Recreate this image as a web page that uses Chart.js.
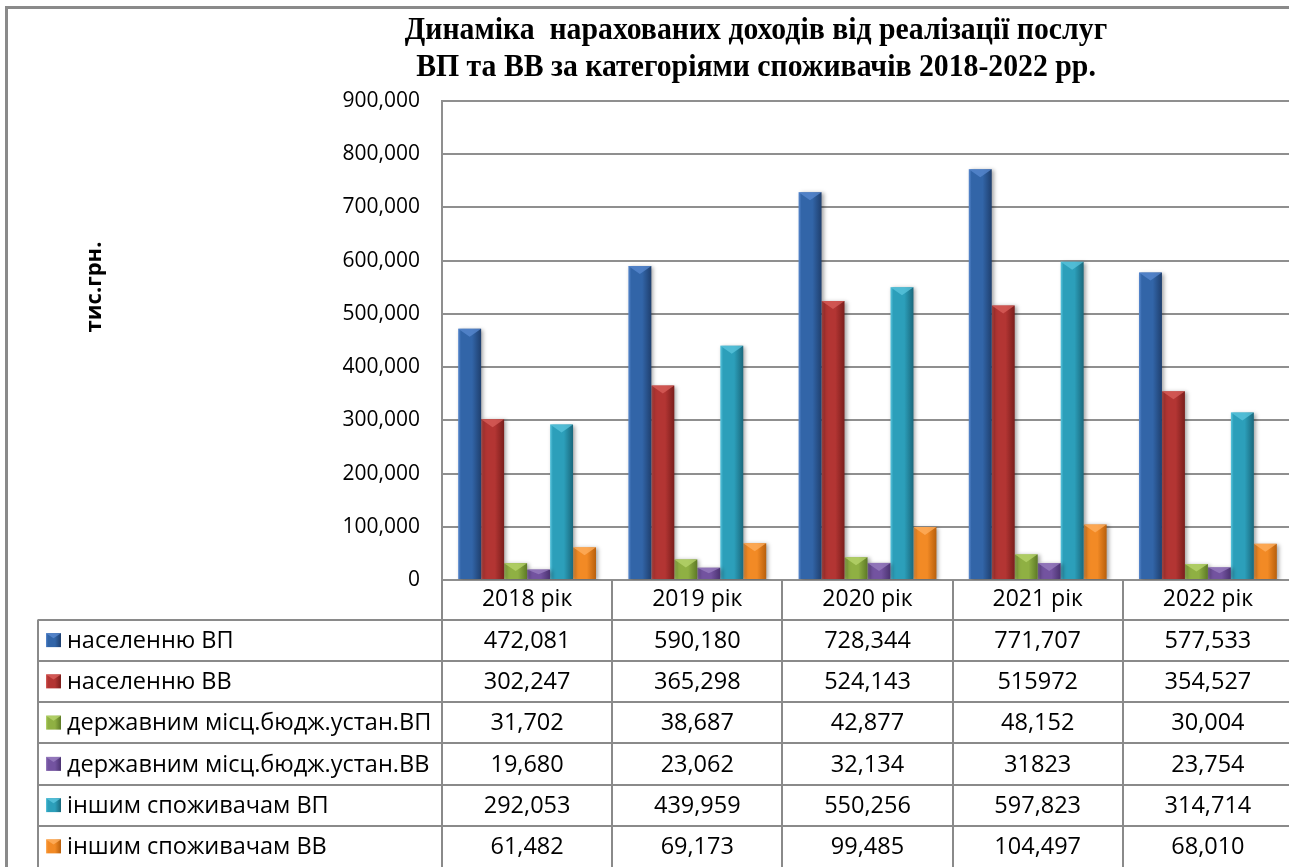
<!DOCTYPE html>
<html>
<head>
<meta charset="utf-8">
<title>Динаміка нарахованих доходів</title>
<script src="https://cdn.jsdelivr.net/npm/chart.js@4.4.1/dist/chart.umd.min.js"></script>
<style>
  html, body { margin: 0; padding: 0; background: #fff; overflow: hidden; }
  #wrap { width: 1296px; height: 867px; }
</style>
</head>
<body>
<div id="wrap"><canvas id="chart" width="1296" height="867"></canvas></div>
<script>
// Years on the category axis
const years = ['2018 рік', '2019 рік', '2020 рік', '2021 рік', '2022 рік'];

// Series names (legend column of the data table)
const seriesNames = [
  'населенню ВП',
  'населенню ВВ',
  'державним місц.бюдж.устан.ВП',
  'державним місц.бюдж.устан.ВВ',
  'іншим споживачам ВП',
  'іншим споживачам ВВ'
];

// Values as printed in the data table, thousand UAH
const populationVP = ['472,081', '590,180', '728,344', '771,707', '577,533'];
const populationVV = ['302,247', '365,298', '524,143', '515972', '354,527'];
const budgetVP     = ['31,702', '38,687', '42,877', '48,152', '30,004'];
const budgetVV     = ['19,680', '23,062', '32,134', '31823', '23,754'];
const otherVP      = ['292,053', '439,959', '550,256', '597,823', '314,714'];
const otherVV      = ['61,482', '69,173', '99,485', '104,497', '68,010'];

const seriesValues = [populationVP, populationVV, budgetVP, budgetVV, otherVP, otherVV];

// Y axis
const yMin = 0;
const yMax = 900000;
const yStep = 100000;

// light / base / dark shades for each series
const palette = [
  ['#5a8ad0', '#3265a8', '#1f3f6e'],
  ['#d9605c', '#b33533', '#7a1e1c'],
  ['#b8d66e', '#8fb043', '#5d7a26'],
  ['#9a7fc0', '#7353a0', '#4a3270'],
  ['#5cc6de', '#2c9fba', '#1a687c'],
  ['#ffb061', '#f28a25', '#b85f0c']
];

const toNumber = s => Number(String(s).replace(/,/g, ''));

const FONT = '"Open Sans", "Noto Sans", sans-serif';

function barGradient(ctx, left, width, shades) {
  const g = ctx.createLinearGradient(left, 0, left + width, 0);
  g.addColorStop(0, shades[0]);
  g.addColorStop(0.12, shades[1]);
  g.addColorStop(0.6, shades[1]);
  g.addColorStop(1, shades[2]);
  return g;
}

// gradient fill, top bevel and soft shadow on the bars
const bevelBars = {
  id: 'bevelBars',
  beforeDatasetsDraw(chart) {
    const ctx = chart.ctx;
    chart.data.datasets.forEach((ds, di) => {
      chart.getDatasetMeta(di).data.forEach(el => {
        el.options = Object.assign({}, el.options, {
          backgroundColor: barGradient(ctx, el.x - el.width / 2, el.width, palette[di])
        });
      });
    });
    ctx.save();
    ctx.shadowColor = 'rgba(0,0,0,0.35)';
    ctx.shadowBlur = 4;
    ctx.shadowOffsetX = 2;
    ctx.shadowOffsetY = 1;
  },
  afterDatasetsDraw(chart) {
    const ctx = chart.ctx;
    ctx.restore();
    chart.data.datasets.forEach((ds, di) => {
      chart.getDatasetMeta(di).data.forEach(el => {
        const l = el.x - el.width / 2, r = el.x + el.width / 2;
        const h = Math.min(8, (el.base - el.y) / 2);
        ctx.save();
        ctx.globalAlpha = 0.75;
        ctx.fillStyle = palette[di][0];
        ctx.beginPath();
        ctx.moveTo(l, el.y);
        ctx.lineTo(r, el.y);
        ctx.lineTo(el.x, el.y + h);
        ctx.closePath();
        ctx.fill();
        ctx.restore();
      });
    });
  }
};

// title, axis caption, outer frame and the data table under the plot
const decorations = {
  id: 'decorations',
  afterDraw(chart) {
    const ctx = chart.ctx;
    const xs = chart.scales.x;
    const area = chart.chartArea;
    const W = chart.width, H = chart.height;

    ctx.save();
    // outer frame
    ctx.strokeStyle = '#8a8a8a';
    ctx.lineWidth = 3;
    ctx.beginPath();
    ctx.moveTo(6.5, H);
    ctx.lineTo(6.5, 7.5);
    ctx.lineTo(W, 7.5);
    ctx.stroke();

    // title
    ctx.fillStyle = '#000';
    ctx.font = 'bold 32px "Liberation Serif", "DejaVu Serif", serif';
    ctx.textAlign = 'center';
    ctx.textBaseline = 'middle';
    [['Динаміка  нарахованих доходів від реалізації послуг', 31],
     ['ВП та ВВ за категоріями споживачів 2018-2022 рр.', 68]].forEach(([t, y]) => {
      ctx.save();
      ctx.translate(756, y);
      ctx.scale(0.93, 1);
      ctx.fillText(t, 0, 0);
      ctx.restore();
    });

    // y axis caption
    ctx.save();
    ctx.translate(95, 287);
    ctx.rotate(-Math.PI / 2);
    ctx.font = 'bold 22px ' + FONT;
    ctx.fillText('тис.грн.', 0, 0);
    ctx.restore();

    // data table
    const headTop = area.bottom;
    const rowsTop = headTop + 39.5;
    const rowH = (H - rowsTop) / seriesNames.length;
    const tableLeft = 38;
    const half = (xs.getPixelForValue(1) - xs.getPixelForValue(0)) / 2;

    ctx.strokeStyle = '#8a8a8a';
    ctx.lineWidth = 2;
    ctx.beginPath();
    for (let r = 0; r < seriesNames.length; r++) {
      const y = Math.round(rowsTop + r * rowH);
      ctx.moveTo(tableLeft, y);
      ctx.lineTo(W, y);
    }
    ctx.moveTo(tableLeft, rowsTop);
    ctx.lineTo(tableLeft, H);
    for (let i = 0; i <= years.length; i++) {
      const x = Math.round(xs.getPixelForValue(i) - half);
      ctx.moveTo(x, headTop);
      ctx.lineTo(x, H);
    }
    ctx.stroke();

    ctx.font = '23.5px ' + FONT;
    ctx.textBaseline = 'middle';
    seriesNames.forEach((name, r) => {
      const cy = rowsTop + r * rowH + rowH / 2;
      // legend key
      const kx = 46, ky = cy - 7;
      ctx.fillStyle = barGradient(ctx, kx, 15, palette[r]);
      ctx.fillRect(kx, ky, 15, 14);
      ctx.fillStyle = palette[r][0];
      ctx.globalAlpha = 0.8;
      ctx.beginPath();
      ctx.moveTo(kx, ky);
      ctx.lineTo(kx + 15, ky);
      ctx.lineTo(kx + 7.5, ky + 5);
      ctx.closePath();
      ctx.fill();
      ctx.globalAlpha = 1;

      ctx.fillStyle = '#000';
      ctx.textAlign = 'left';
      ctx.fillText(name, 67, cy + 1);
      ctx.textAlign = 'center';
      seriesValues[r].forEach((v, i) => {
        ctx.fillText(v, xs.getPixelForValue(i), cy + 1);
      });
    });
    ctx.restore();
  }
};

new Chart(document.getElementById('chart'), {
  type: 'bar',
  data: {
    labels: years,
    datasets: seriesNames.map((name, i) => ({
      label: name,
      data: seriesValues[i].map(toNumber),
      backgroundColor: palette[i][1],
      borderWidth: 0,
      categoryPercentage: 0.81,
      barPercentage: 1
    }))
  },
  options: {
    responsive: false,
    devicePixelRatio: 1,
    animation: false,
    layout: { padding: { top: 101, right: 3, left: 0, bottom: 0 } },
    plugins: {
      legend: { display: false },
      title: { display: false },
      tooltip: { enabled: false }
    },
    scales: {
      x: {
        grid: { display: false, drawTicks: false },
        border: { display: false },
        ticks: { color: '#000', padding: 6, font: { family: FONT, size: 23 } },
        afterFit(scale) { scale.height = 287; }
      },
      y: {
        min: yMin,
        max: yMax,
        grid: { color: '#8f8f8f', lineWidth: 2, drawTicks: false },
        border: { color: '#8f8f8f', width: 2 },
        ticks: {
          stepSize: yStep,
          color: '#000',
          padding: 22,
          font: { family: FONT, size: 21 },
          callback: v => v.toLocaleString('en-US')
        },
        afterFit(scale) { scale.width = 442; }
      }
    }
  },
  plugins: [bevelBars, decorations]
});
</script>
</body>
</html>
